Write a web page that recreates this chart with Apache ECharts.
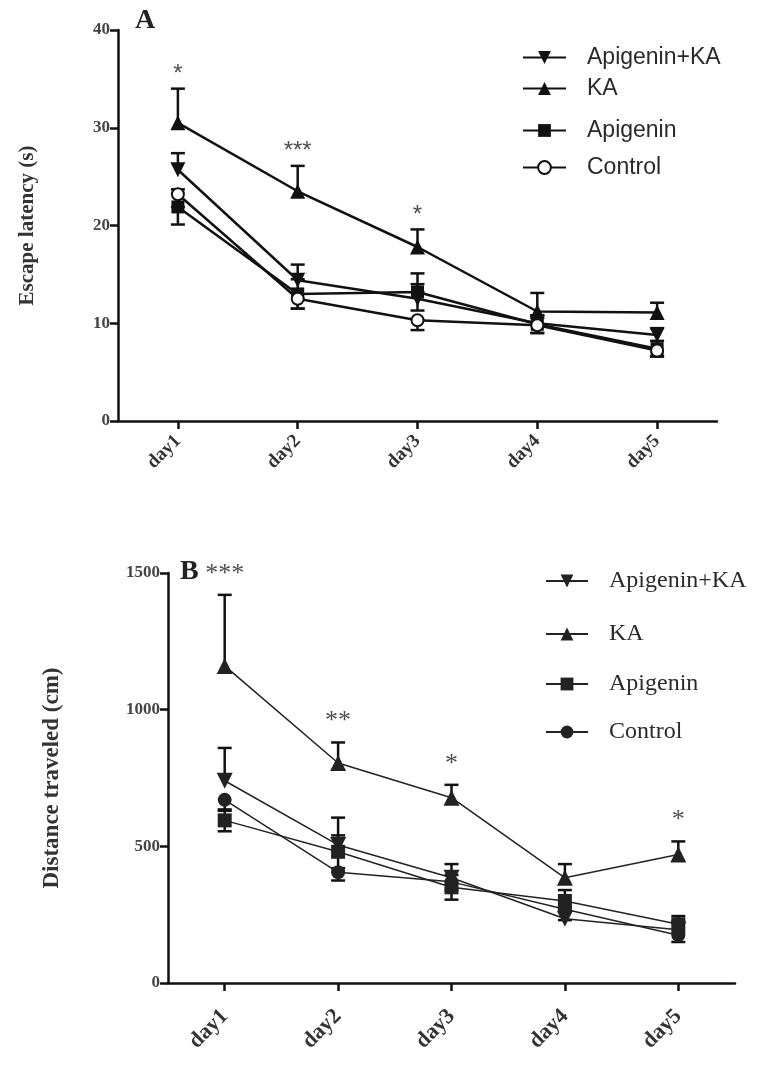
<!DOCTYPE html>
<html>
<head>
<meta charset="utf-8">
<script src="https://cdn.jsdelivr.net/npm/echarts@6/dist/echarts.min.js"></script>
<style>
html,body{margin:0;padding:0;background:#fff;}
#chart{width:766px;height:1072px;}
</style>
</head>
<body>
<div id="chart"></div>
<script>
// ---------- data ----------
const days = ['day1', 'day2', 'day3', 'day4', 'day5'];

// Panel A: Escape latency (s)
const aApigeninKA = [25.7, 14.4, 12.5, 10.0, 8.8];
const aKA = [30.5, 23.5, 17.8, 11.2, 11.1];
const aApigenin = [21.9, 13.0, 13.2, 9.9, 7.4];
const aControl = [23.2, 12.5, 10.3, 9.8, 7.2];
const aErrApigeninKA = [1.7, 1.6, 1.5, 0.8, 0.7];
const aErrKA = [3.5, 2.6, 1.8, 1.9, 1.0];
const aErrApigenin = [1.8, 1.5, 1.9, 0.9, 0.8];
const aErrControl = [1.3, 1.0, 1.0, 0.8, 0.6];
const aStars = ['*', '***', '*', '', ''];
const aTicks = [0, 10, 20, 30, 40];

// Panel B: Distance traveled (cm)
const bApigeninKA = [740, 505, 385, 235, 195];
const bKA = [1160, 805, 678, 385, 470];
const bApigenin = [595, 480, 350, 300, 215];
const bControl = [670, 405, 370, 270, 175];
const bErrApigeninKA = [120, 100, 50, 40, 30];
const bErrKA = [260, 75, 47, 50, 48];
const bErrApigenin = [40, 60, 45, 40, 30];
const bErrControl = [40, 30, 30, 40, 25];
const bStars = ['***', '**', '*', '', '*'];
const bTicks = [0, 500, 1000, 1500];

const seriesNames = ['Apigenin+KA', 'KA', 'Apigenin', 'Control'];
const B_SUFFIX = '\u0000B';

// ---------- helpers ----------
const SERIF = '"Liberation Serif", "Times New Roman", serif';
const SANS = '"Liberation Sans", Arial, sans-serif';

function errRender(dir, capHalf, lw, color) {
  return function (params, api) {
    const x = api.value(0), v = api.value(1), e = api.value(2);
    const p = api.coord([x, v]);
    const children = [];
    const st = { stroke: color, lineWidth: lw };
    if (dir === 'up' || dir === 'both') {
      const t = api.coord([x, v + e]);
      children.push({ type: 'line', shape: { x1: p[0], y1: p[1], x2: t[0], y2: t[1] }, style: st });
      children.push({ type: 'line', shape: { x1: t[0] - capHalf, y1: t[1], x2: t[0] + capHalf, y2: t[1] }, style: st });
    }
    if (dir === 'down' || dir === 'both') {
      const b = api.coord([x, v - e]);
      children.push({ type: 'line', shape: { x1: p[0], y1: p[1], x2: b[0], y2: b[1] }, style: st });
      children.push({ type: 'line', shape: { x1: b[0] - capHalf, y1: b[1], x2: b[0] + capHalf, y2: b[1] }, style: st });
    }
    return { type: 'group', children: children };
  };
}

function errSeries(idx, vals, errs, dir, capHalf, lw, color) {
  return {
    type: 'custom', xAxisIndex: idx, yAxisIndex: idx,
    renderItem: errRender(dir, capHalf, lw, color),
    data: vals.map((v, i) => [i, v, errs[i]]),
    encode: { x: 0, y: 1 }, z: 1, silent: true
  };
}

function lineSeries(idx, name, vals, symbol, size, rot, lw, color, fill) {
  return {
    type: 'line', name: name, xAxisIndex: idx, yAxisIndex: idx,
    data: vals, symbol: symbol, symbolSize: size, symbolRotate: rot,
    showAllSymbol: true,
    lineStyle: { color: color, width: lw },
    itemStyle: { color: fill || color, borderColor: color, borderWidth: fill ? 2 : 0 },
    z: 3, animation: false
  };
}

function starSeries(idx, vals, errs, stars, font, size, dist) {
  return {
    type: 'scatter', xAxisIndex: idx, yAxisIndex: idx,
    symbolSize: 0, silent: true, z: 4,
    data: vals.map((v, i) => [i, v + errs[i]]),
    label: {
      show: true, position: 'top', distance: dist,
      formatter: p => stars[p.dataIndex],
      fontFamily: font, fontSize: size, color: '#222'
    }
  };
}

function legendOne(name, left, top, font, size, iw, ih) {
  return {
    data: [name], left: left, top: top, orient: 'vertical',
    itemWidth: iw, itemHeight: ih, padding: 0,
    selectedMode: false,
    formatter: n => n.replace(B_SUFFIX, ''),
    textStyle: { fontFamily: font, fontSize: size, color: '#2a2a2a', padding: [0, 0, 0, 16] }
  };
}

const chart = echarts.init(document.getElementById('chart'), null, { renderer: 'canvas' });

const axisLine = { show: true, lineStyle: { color: '#111', width: 2.5 } };
const axisTick = { show: true, length: 8, lineStyle: { color: '#111', width: 2.5 } };

const option = {
  backgroundColor: '#fff',
  animation: false,
  grid: [
    { left: 118, top: 30, width: 599, height: 391 },
    { left: 168, top: 573, width: 567, height: 410 }
  ],
  xAxis: [
    {
      type: 'category', gridIndex: 0, data: days, boundaryGap: true,
      axisLine: axisLine, axisTick: { show: true, length: 8, alignWithLabel: true, lineStyle: { color: '#111', width: 2.5 } },
      axisLabel: { rotate: 45, margin: 17, fontFamily: SERIF, fontWeight: 'bold', fontSize: 19, color: '#333' },
      splitLine: { show: false }
    },
    {
      type: 'category', gridIndex: 1, data: days, boundaryGap: true,
      axisLine: axisLine, axisTick: { show: true, length: 8, alignWithLabel: true, lineStyle: { color: '#111', width: 2.5 } },
      axisLabel: { rotate: 45, margin: 30, fontFamily: SERIF, fontWeight: 'bold', fontSize: 22, color: '#333' },
      splitLine: { show: false }
    }
  ],
  yAxis: [
    {
      type: 'value', gridIndex: 0, min: aTicks[0], max: aTicks[aTicks.length - 1], interval: 10,
      name: 'Escape latency (s)', nameLocation: 'middle', nameGap: 80, nameRotate: 90,
      nameTextStyle: { fontFamily: SERIF, fontWeight: 'bold', fontSize: 21, color: '#333' },
      axisLine: axisLine, axisTick: axisTick,
      axisLabel: { margin: 8, fontFamily: SERIF, fontWeight: 'bold', fontSize: 17, color: '#444', formatter: v => String(v) },
      splitLine: { show: false }
    },
    {
      type: 'value', gridIndex: 1, min: bTicks[0], max: bTicks[bTicks.length - 1], interval: 500,
      name: 'Distance traveled (cm)', nameLocation: 'middle', nameGap: 104, nameRotate: 90,
      nameTextStyle: { fontFamily: SERIF, fontWeight: 'bold', fontSize: 23, color: '#333' },
      axisLine: axisLine, axisTick: axisTick,
      axisLabel: { margin: 8, fontFamily: SERIF, fontWeight: 'bold', fontSize: 17, color: '#444', formatter: v => String(v) },
      splitLine: { show: false }
    }
  ],
  legend: [
    legendOne(seriesNames[0], 522, 46, SANS, 23, 43, 16),
    legendOne(seriesNames[1], 522, 77, SANS, 23, 43, 16),
    legendOne(seriesNames[2], 522, 119, SANS, 23, 43, 16),
    legendOne(seriesNames[3], 522, 156, SANS, 23, 43, 16),
    legendOne(seriesNames[0] + B_SUFFIX, 545, 569, SERIF, 24, 42, 16),
    legendOne(seriesNames[1] + B_SUFFIX, 545, 622, SERIF, 24, 42, 16),
    legendOne(seriesNames[2] + B_SUFFIX, 545, 672, SERIF, 24, 42, 16),
    legendOne(seriesNames[3] + B_SUFFIX, 545, 720, SERIF, 24, 42, 16)
  ],
  graphic: [
    { type: 'text', left: 135, top: 7, style: { text: 'A', font: 'bold 28px ' + SERIF, fill: '#222' } },
    { type: 'text', left: 180, top: 558, style: { text: 'B', font: 'bold 28px ' + SERIF, fill: '#222' } }
  ],
  series: [
    // Panel A error bars
    errSeries(0, aApigeninKA, aErrApigeninKA, 'up', 7, 2.5, '#111'),
    errSeries(0, aKA, aErrKA, 'up', 7, 2.5, '#111'),
    errSeries(0, aApigenin, aErrApigenin, 'both', 7, 2.5, '#111'),
    errSeries(0, aControl, aErrControl, 'down', 7, 2.5, '#111'),
    // Panel A lines
    lineSeries(0, seriesNames[0], aApigeninKA, 'triangle', 15, 180, 2.5, '#111'),
    lineSeries(0, seriesNames[1], aKA, 'triangle', 15, 0, 2.5, '#111'),
    lineSeries(0, seriesNames[2], aApigenin, 'rect', 13, 0, 2.5, '#111'),
    lineSeries(0, seriesNames[3], aControl, 'circle', 12, 0, 2.5, '#111', '#fff'),
    starSeries(0, aKA, aErrKA, aStars, SANS, 24, 2),
    // Panel B error bars
    errSeries(1, bApigeninKA, bErrApigeninKA, 'up', 7, 2.5, '#111'),
    errSeries(1, bKA, bErrKA, 'up', 7, 2.5, '#111'),
    errSeries(1, bApigenin, bErrApigenin, 'both', 7, 2.5, '#111'),
    errSeries(1, bControl, bErrControl, 'down', 7, 2.5, '#111'),
    // Panel B lines
    lineSeries(1, seriesNames[0] + B_SUFFIX, bApigeninKA, 'triangle', 16, 180, 1.5, '#222'),
    lineSeries(1, seriesNames[1] + B_SUFFIX, bKA, 'triangle', 16, 0, 1.5, '#222'),
    lineSeries(1, seriesNames[2] + B_SUFFIX, bApigenin, 'rect', 14, 0, 1.5, '#222'),
    lineSeries(1, seriesNames[3] + B_SUFFIX, bControl, 'circle', 14, 0, 1.5, '#222'),
    starSeries(1, bKA, bErrKA, bStars, SERIF, 26, 8)
  ]
};

chart.setOption(option);
</script>
</body>
</html>
